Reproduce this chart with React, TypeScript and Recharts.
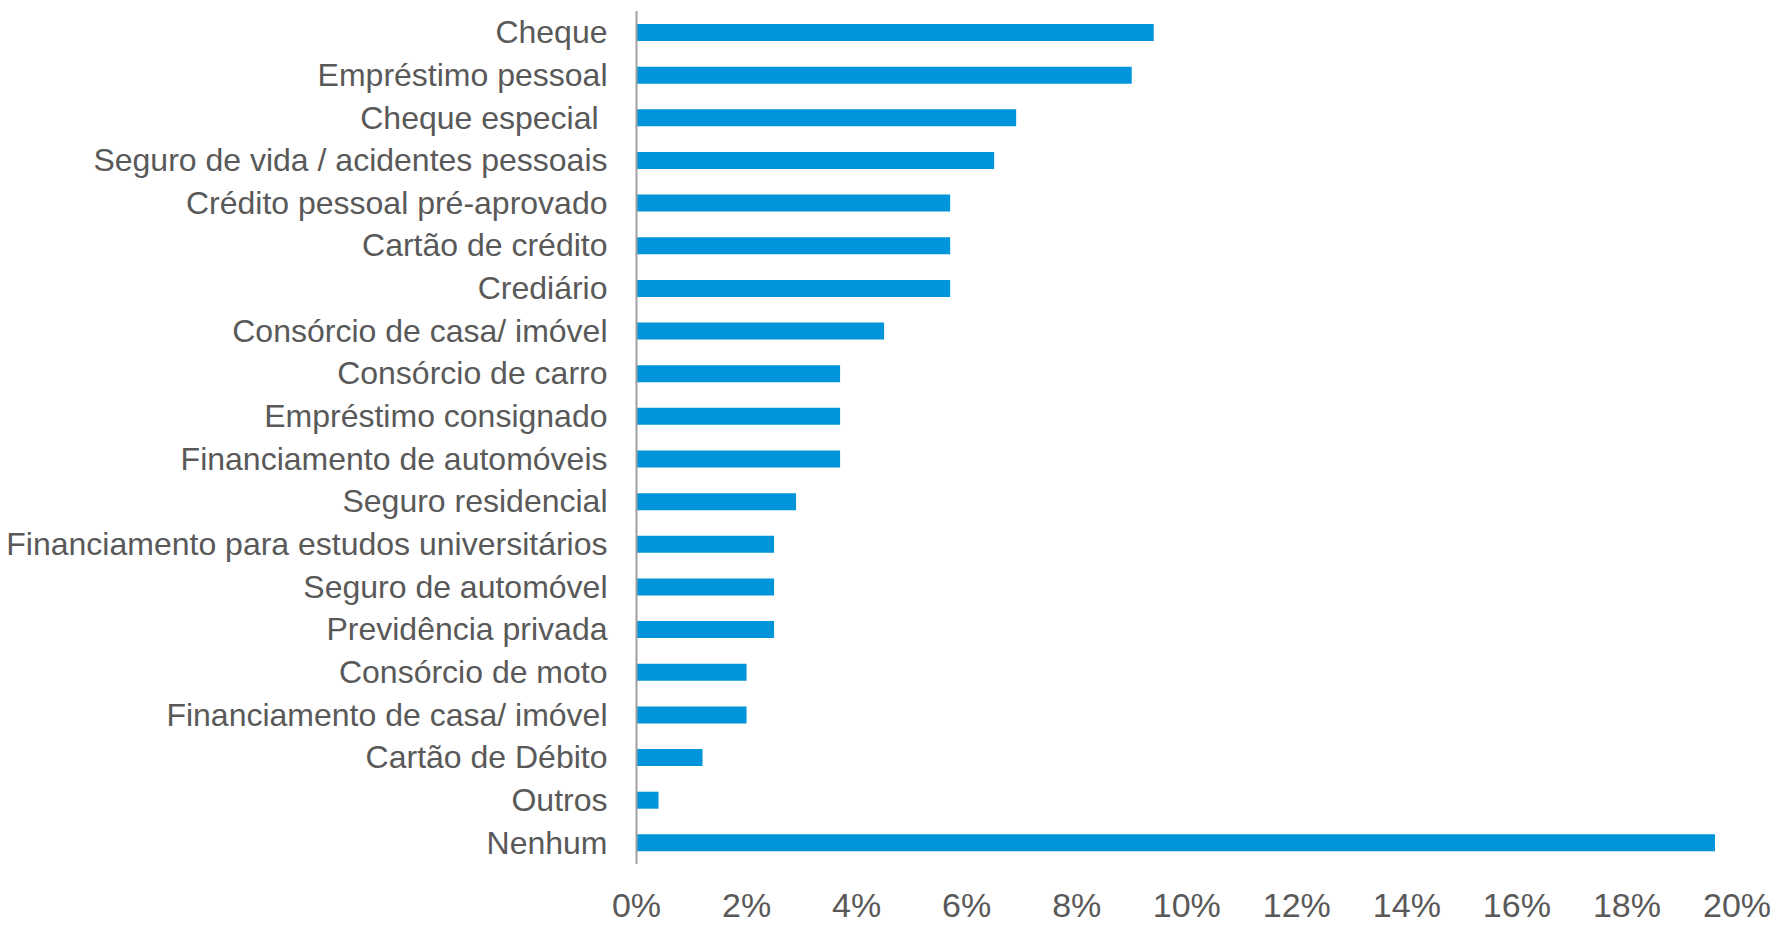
import React from "react";
import { BarChart, Bar, XAxis, YAxis } from "recharts";

const categories = [
  "Cheque",
  "Empréstimo pessoal",
  "Cheque especial ",
  "Seguro de vida / acidentes pessoais",
  "Crédito pessoal pré-aprovado",
  "Cartão de crédito",
  "Crediário",
  "Consórcio de casa/ imóvel",
  "Consórcio de carro",
  "Empréstimo consignado",
  "Financiamento de automóveis",
  "Seguro residencial",
  "Financiamento para estudos universitários",
  "Seguro de automóvel",
  "Previdência privada",
  "Consórcio de moto",
  "Financiamento de casa/ imóvel",
  "Cartão de Débito",
  "Outros",
  "Nenhum",
];

const values = [9.4, 9.0, 6.9, 6.5, 5.7, 5.7, 5.7, 4.5, 3.7, 3.7, 3.7, 2.9, 2.5, 2.5, 2.5, 2.0, 2.0, 1.2, 0.4, 19.6];

const xTicks = [0, 2, 4, 6, 8, 10, 12, 14, 16, 18, 20];

const data = categories.map((name, i) => ({ name, value: values[i] }));

const FONT = "'Liberation Sans', Arial, sans-serif";
const TEXT = "#595959";

const YTick = (props: any) => {
  const { x, y, payload } = props;
  return (
    <text
      x={x}
      y={y}
      dy="0.34em"
      textAnchor="end"
      fill={TEXT}
      fontSize={32}
      fontFamily={FONT}
      style={{ whiteSpace: "pre" }}
    >
      {payload.value}
    </text>
  );
};

const XTick = (props: any) => {
  const { x, y, payload } = props;
  return (
    <text x={x} y={y} dy={53} textAnchor="middle" fill={TEXT} fontSize={34} fontFamily={FONT}>
      {`${payload.value}%`}
    </text>
  );
};

export default function App() {
  return (
    <div style={{ position: "absolute", left: 0, top: 0, background: "#fff" }}>
      <BarChart
        width={1779}
        height={925}
        data={data}
        layout="vertical"
        margin={{ top: 11, right: 42, bottom: 0, left: 0 }}
      >
        <XAxis
          type="number"
          domain={[0, 20]}
          ticks={xTicks}
          interval={0}
          axisLine={false}
          tickLine={false}
          tickSize={0}
          tickMargin={0}
          height={61}
          tick={<XTick />}
        />
        <YAxis
          type="category"
          dataKey="name"
          width={636.5}
          interval={0}
          axisLine={{ stroke: "#a0a0a0", strokeWidth: 2 }}
          tickLine={false}
          tickSize={0}
          tickMargin={29}
          tick={<YTick />}
        />
        <Bar dataKey="value" fill="#0095DA" barSize={17} isAnimationActive={false} />
      </BarChart>
    </div>
  );
}
